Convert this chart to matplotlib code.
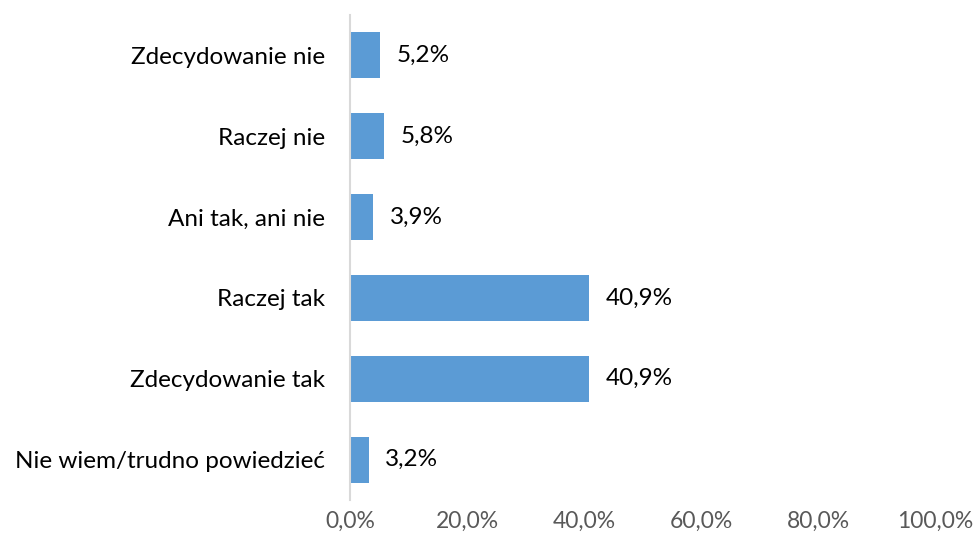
import matplotlib.pyplot as plt
from matplotlib.ticker import FuncFormatter

categories = ['Zdecydowanie nie', 'Raczej nie', 'Ani tak, ani nie', 'Raczej tak',
              'Zdecydowanie tak', 'Nie wiem/trudno powiedzieć']
values = [5.2, 5.8, 3.9, 40.9, 40.9, 3.2]
ticks = [0, 20, 40, 60, 80, 100]

plt.rcParams['font.family'] = ['Lato', 'DejaVu Sans']

fig = plt.figure(figsize=(9.73, 5.42), dpi=100)
ax = fig.add_axes([350 / 973, 42 / 542, 585 / 973, 485 / 542])

y = list(range(len(categories)))
ax.barh(y, values, height=0.57, color='#5B9BD5')

for yi, v in zip(y, values):
    ax.annotate(f"{v:.1f}%".replace('.', ','), (v, yi), xytext=(12, 0),
                textcoords='offset points', va='center', ha='left',
                fontsize=17.5, color='black')

ax.set_ylim(len(categories) - 0.5, -0.5)
ax.set_xlim(0, 100)
ax.set_yticks(y)
ax.set_yticklabels(categories, fontsize=17.5)
ax.set_xticks(ticks)
ax.xaxis.set_major_formatter(FuncFormatter(lambda v, p: f"{v:.1f}%".replace('.', ',')))
ax.tick_params(axis='x', length=0, labelsize=16.5, labelcolor='#595959', pad=8)
ax.tick_params(axis='y', length=0, pad=18)

for s in ['top', 'right', 'bottom']:
    ax.spines[s].set_visible(False)
ax.spines['left'].set_color('#D9D9D9')
ax.spines['left'].set_linewidth(1.5)

fig.savefig('out.png', dpi=100)
